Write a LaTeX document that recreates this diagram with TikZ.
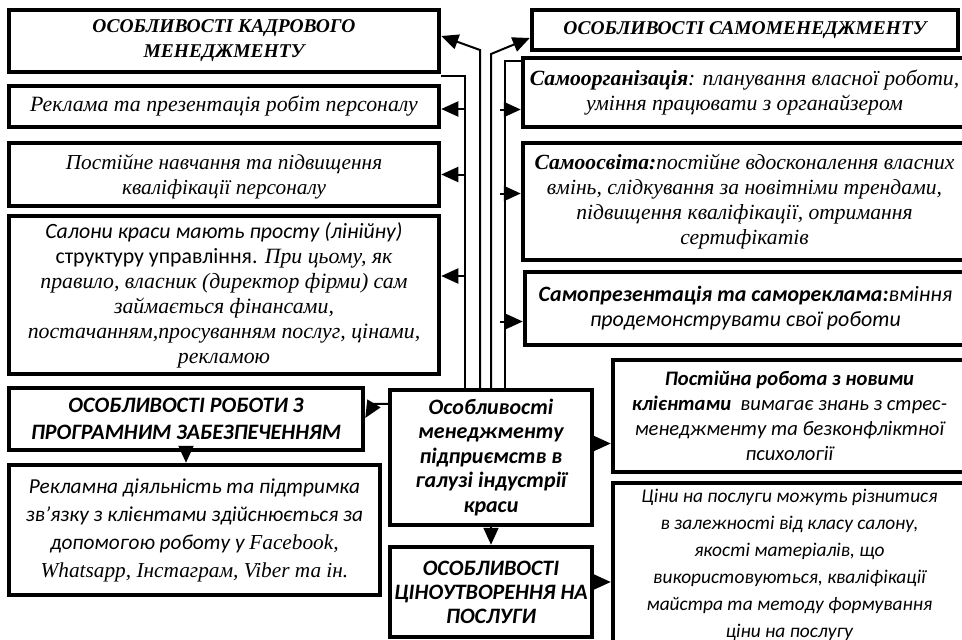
\documentclass[tikz,border=0pt]{standalone}
\usepackage{fontspec}
\setmainfont{Liberation Serif}
\newfontfamily\calibri{Carlito}
\usetikzlibrary{arrows.meta,calc}

\tikzset{
    blok/.style={draw, line width=4.5pt, inner sep=0pt, align=center},
    link/.style={line width=2pt},
    arr/.style={line width=2pt, -{Triangle[length=17pt,width=15pt]}},
    times/.style={font=\fontsize{#1}{25}\selectfont\itshape},
    calib/.style={font=\fontsize{#1}{25}\selectfont\calibri\itshape}
}

\begin{document}
\begin{tikzpicture}[x=1pt,y=-1pt]
            % Define dimensions
            \def\leftw{430pt}
            \def\rightw{443pt}
            \useasboundingbox (0,0) rectangle (962,640);
            % Left column: personnel management
            \node[blok, times=19.5, minimum width=\leftw, minimum height=62pt] (kadr) at (224,41)
                {\bfseries ОСОБЛИВОСТІ КАДРОВОГО\\\bfseries МЕНЕДЖМЕНТУ};
            \node[blok, times=21.8, minimum width=\leftw, minimum height=41pt] (reklama) at (224,106.5)
                {Реклама та презентація робіт персоналу};
            \node[blok, times=21.3, text depth=-8pt, minimum width=\leftw, minimum height=63pt] (navch) at (224,174.5)
                {Постійне навчання та підвищення\\кваліфікації персоналу};
            \node[blok, times=21.8, minimum width=\leftw, minimum height=158pt] (salon) at (224,295)
                {{\calibri Салони краси мають просту (лінійну)}\\
                 {\calibri\upshape структуру управління.} При цьому, як\\
                 правило, власник (директор фірми) сам\\
                 займається фінансами,\\
                 постачанням,просуванням послуг, цінами,\\
                 рекламою};
            \node[blok, font=\fontsize{22}{27}\selectfont\calibri\bfseries\itshape, minimum width=354pt, minimum height=62pt] (prog) at (186,419)
                {ОСОБЛИВОСТІ РОБОТИ З\\ПРОГРАМНИМ ЗАБЕЗПЕЧЕННЯМ};
            \node[blok, font=\fontsize{21.3}{28}\selectfont\calibri\itshape, minimum width=371pt, minimum height=130pt] (rekl) at (194.5,530)
                {Рекламна діяльність та підтримка\\
                 зв’язку з клієнтами здійснюється за\\
                 допомогою роботу у {\rmfamily Facebook,}\\
                 {\rmfamily Whatsapp, Інстаграм, Viber та ін.}};
            % Centre
            \node[blok, font=\fontsize{22}{24.5}\selectfont\calibri\bfseries\itshape, minimum width=202pt, minimum height=135pt] (centre) at (491,457.5)
                {Особливості\\менеджменту\\підприємств в\\галузі індустрії\\краси};
            \node[blok, font=\fontsize{22}{24}\selectfont\calibri\bfseries\itshape, minimum width=202pt, minimum height=90pt] (tsina) at (491,592)
                {ОСОБЛИВОСТІ\\ЦІНОУТВОРЕННЯ НА\\ПОСЛУГИ};
            % Right column: self-management
            \node[blok, times=19.5, minimum width=426pt, minimum height=40pt] (samo) at (745,30)
                {\bfseries ОСОБЛИВОСТІ САМОМЕНЕДЖМЕНТУ};
            \node[blok, times=21.7, minimum width=\rightw, minimum height=69pt] (samoorg) at (744.5,92.5)
                {\textbf{Самоорганізація}: планування власної роботи,\\уміння працювати з органайзером};
            \node[blok, times=21.6, minimum width=\rightw, minimum height=117pt] (samoosv) at (744.5,201.5)
                {\textbf{Самоосвіта:}постійне вдосконалення власних\\
                 вмінь, слідкування за новітніми трендами,\\
                 підвищення кваліфікації, отримання\\
                 сертифікатів};
            \node[blok, calib=21.9, minimum width=441pt, minimum height=73pt] (samopr) at (745.5,308.5)
                {\textbf{Самопрезентація та самореклама:}вміння\\продемонструвати свої роботи};
            \node[blok, calib=20.6, minimum width=353pt, minimum height=112pt] (klient) at (789.5,416)
                {\textbf{Постійна робота з новими}\\
                 \textbf{клієнтами}\ \ вимагає знань з стрес-\\
                 менеджменту та безконфліктної\\
                 психології};
            \node[blok, font=\fontsize{19.4}{27}\selectfont\calibri\itshape, minimum width=353pt, minimum height=163pt] (tsiny) at (789.5,564.5)
                {Ціни на послуги можуть різнитися\\
                 в залежності від класу салону,\\
                 якості матеріалів, що\\
                 використовуються, кваліфікації\\
                 майстра та методу формування\\
                 ціни на послугу};
            % Buses rising from the centre
            \coordinate (busA) at (465,76);
            \coordinate (busB) at (480,50);
            \coordinate (busC) at (491,54);
            \coordinate (busD) at (505,61);
            \draw[link] (centre.north -| busA) -- (busA) -- (kadr.south east |- busA);
            \draw[arr] (centre.north -| busB) -- (busB) -- ($(kadr.east)+(0,-5)$);
            \draw[arr] (centre.north -| busC) -- (busC) -- ($(samo.west)+(0,8)$);
            \draw[link] (centre.north -| busD) -- (busD) -- (samoorg.north west |- busD);
            % Branches to the left
            \foreach \tgt/\dy in {reklama/2.5, navch/0, salon/-19}
                \draw[arr] ($(busA |- \tgt.east)+(0,\dy)$) -- ($(\tgt.east)+(0,\dy)$);
            % Branches to the right
            \foreach \tgt/\dy in {samoorg/17, samoosv/-8, samopr/13}
                \draw[arr] ($(busD |- \tgt.west)+(-5,\dy)$) -- ($(\tgt.west)+(0,\dy)$);
            % Remaining links
            \draw[arr] ($(centre.north west)+(0,16)$) -- ++(-14,0) -- ($(prog.east)+(0,-1)$);
            \draw[arr] (prog.south) -- (prog.south |- rekl.north);
            \draw[arr] (centre.south) -- (tsina.north);
            \draw[arr] ($(centre.east)+(0,-14)$) -- ($(klient.west |- centre.east)+(0,-14)$);
            \draw[arr] ($(tsina.east)+(0,-10)$) -- ($(tsiny.west |- tsina.east)+(0,-10)$);
        \end{tikzpicture}
\end{document}
